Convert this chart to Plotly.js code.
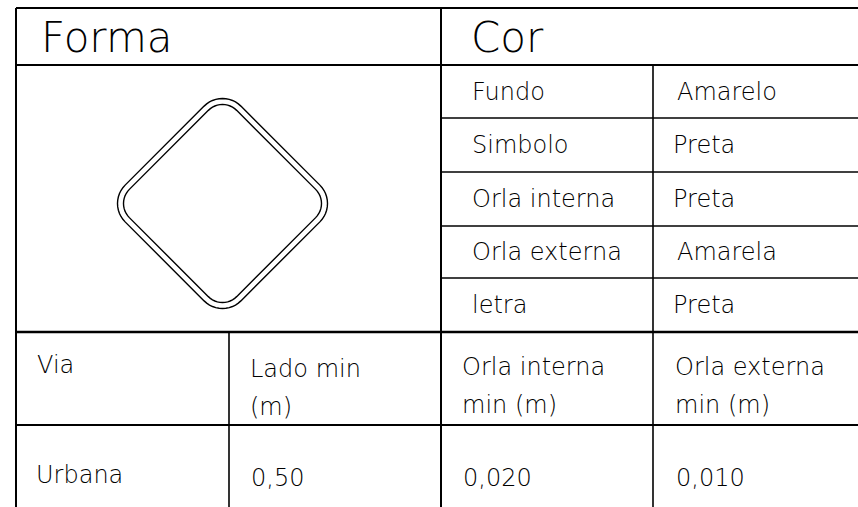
<!DOCTYPE html>
<html><head><meta charset="utf-8">
<script src="https://cdn.plot.ly/plotly-3.0.1.min.js"></script>
<style>html,body{margin:0;padding:0;background:#fff}#chart{width:858px;height:507px}</style>
</head><body><div id="chart"></div>
<script>
// ---- data ----
const headerTitles = ["Forma", "Cor"];
const colorParts = ["Fundo", "Simbolo", "Orla interna", "Orla externa", "letra"];
const colorValues = ["Amarelo", "Preta", "Preta", "Amarela", "Preta"];
const dimHeaders = ["Via", "Lado min<br>(m)", "Orla interna<br>min (m)", "Orla externa<br>min (m)"];
const dimValues = ["Urbana", "0,50", "0,020", "0,010"];

// ---- layout geometry (pixels) ----
const W = 858, H = 507;
const FONT = '"DejaVu Sans", sans-serif';
const fsSmall = 24, fsBig = 42;
const L = 16, TOP = 8, HEAD = 65, MID = 441, COL2 = 653, COLB = 229;
const rowLines = [118, 172, 226, 278];
const BOT1 = 332, BOT2 = 425;

const shapes = [];
function line(x0, y0, x1, y1, w) {
  shapes.push({type: 'line', xref: 'x', yref: 'y', x0, y0, x1, y1, line: {color: '#000', width: w}});
}
line(L, TOP, W, TOP, 2);
line(L, TOP, L, H, 2);
line(L, HEAD, W, HEAD, 2);
line(MID, TOP, MID, H, 2);
line(COL2, HEAD, COL2, H, 1.6);
rowLines.forEach(y => line(MID, y, W, y, 1.6));
line(L, BOT1, W, BOT1, 2.4);
line(L, BOT2, W, BOT2, 1.8);
line(COLB, BOT1, COLB, H, 1.6);

// rounded diamond (square rotated 45deg)
function roundedDiamond(cx, cy, tip, r) {
  const h = (tip - r) / Math.SQRT2 + r; // half side
  const pts = [];
  const corners = [[1, 1], [-1, 1], [-1, -1], [1, -1]];
  const start = [0, 90, 180, 270];
  corners.forEach((c, i) => {
    const ccx = c[0] * (h - r), ccy = c[1] * (h - r);
    for (let k = 0; k <= 12; k++) {
      const a = (start[i] + k * 90 / 12) * Math.PI / 180;
      const x = ccx + r * Math.cos(a), y = ccy + r * Math.sin(a);
      const rx = (x - y) / Math.SQRT2, ry = (x + y) / Math.SQRT2;
      pts.push([cx + rx, cy + ry]);
    }
  });
  return 'M' + pts.map(p => p[0].toFixed(2) + ',' + p[1].toFixed(2)).join('L') + 'Z';
}
const dcx = 222.5, dcy = 203.5;
shapes.push({type: 'path', xref: 'x', yref: 'y', path: roundedDiamond(dcx, dcy, 105, 26), line: {color: '#000', width: 1.4}});
shapes.push({type: 'path', xref: 'x', yref: 'y', path: roundedDiamond(dcx, dcy, 99, 20), line: {color: '#000', width: 1.4}});

const annotations = [];
function txt(s, x, baseline, fs) {
  annotations.push({text: s, x, y: baseline - 0.35 * fs, xref: 'x', yref: 'y', xanchor: 'left', yanchor: 'middle',
    showarrow: false, borderpad: 0, font: {family: FONT, size: fs, color: '#000', weight: 200}});
}
txt(headerTitles[0], 40, 52, fsBig);
txt(headerTitles[1], 470, 52, fsBig);
const rowBase = [100, 153, 207, 260, 313];
colorParts.forEach((s, i) => txt(s, 471, rowBase[i], fsSmall));
const valX = [676, 672, 672, 676, 672];
colorValues.forEach((s, i) => txt(s, valX[i], rowBase[i], fsSmall));
const hX = [36, 249, 461, 674];
const hBase = [373, 377, 375, 375];
dimHeaders.forEach((s, i) => {
  s.split('<br>').forEach((part, j) => txt(part, hX[i], hBase[i] + j * 38, fsSmall));
});
const vX = [35, 250, 462, 675];
const vBase = [483, 486, 486, 486];
dimValues.forEach((s, i) => txt(s, vX[i], vBase[i], fsSmall));

const layout = {
  width: W, height: H, margin: {l: 0, r: 0, t: 0, b: 0},
  paper_bgcolor: '#fff', plot_bgcolor: '#fff', showlegend: false,
  xaxis: {range: [0, W], visible: false, fixedrange: true},
  yaxis: {range: [H, 0], visible: false, fixedrange: true},
  shapes, annotations
};
Plotly.newPlot('chart', [{x: [], y: [], type: 'scatter'}], layout, {staticPlot: true, displayModeBar: false});
</script></body></html>
